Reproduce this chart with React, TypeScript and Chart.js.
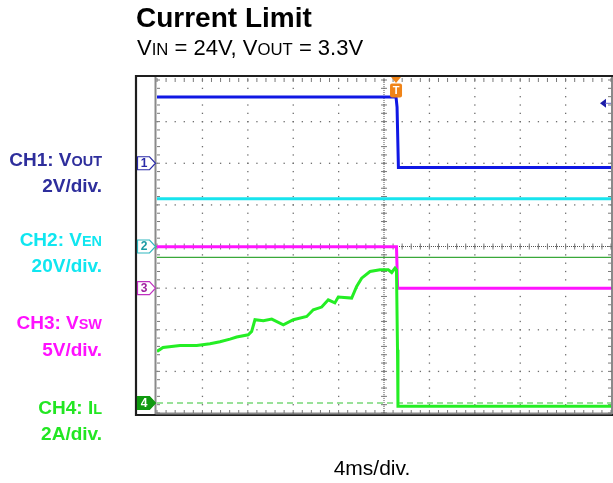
import React, { useEffect, useRef } from "react";
import { Chart, registerables } from "chart.js";

Chart.register(...registerables);

// ---- scope setup ----
const TIME_PER_DIV_MS = 4;
const X_DIVS = 10;
const Y_DIVS = 8;

// channel ground-marker positions (divisions from bottom) and scales per division
const CH1_OFFSET_DIV = 6.0;
const CH1_SCALE = 2; // V/div
const CH2_OFFSET_DIV = 4.0;
const CH2_SCALE = 20; // V/div
const CH3_OFFSET_DIV = 3.0;
const CH3_SCALE = 5; // V/div
const CH4_OFFSET_DIV = 0.24;
const CH4_SCALE = 2; // A/div

// ---- data (time in ms from left edge of screen) ----
const ch1Time = [0, 21.06, 21.15, 21.27, 40];
const ch1Volts = [3.18, 3.18, 2.7, -0.21, -0.21];

const ch2Time = [0, 40];
const ch2Volts = [22.9, 22.9];

const ch3Time = [0, 21.1, 21.2, 40];
const ch3Volts = [4.98, 4.98, 0.0, 0.0];

const ch4Time = [
  0, 0.53, 2.03, 3.5, 4.67, 5.55, 6.43, 7.02, 8.04, 8.34, 8.63, 9.37, 10.11,
  11.13, 12.01, 13.19, 13.77, 14.51, 15.09, 15.67, 15.97, 17.15, 17.59, 18.03,
  18.77, 19.65, 20.38, 20.68, 20.97, 21.1, 21.19, 21.23, 40,
];
const ch4Amps = [
  2.48, 2.67, 2.76, 2.76, 2.85, 2.94, 3.07, 3.17, 3.28, 3.44, 4.0, 3.95, 4.03,
  3.76, 4.0, 4.16, 4.48, 4.61, 4.96, 4.81, 5.09, 5.04, 5.6, 6.0, 6.32, 6.4, 6.4,
  6.27, 6.48, 6.4, 2.56, -0.16, -0.16,
];

const TRIGGER_TIME_MS = 21.06;
const TRIGGER_LEVEL_A = 7.0;
const REF_ARROW_DIV = 7.44;

const CH1_COLOR = "#1018e4";
const CH2_COLOR = "#18e4ee";
const CH3_COLOR = "#ff14ff";
const CH4_COLOR = "#24ee24";

const toDiv = (vals: number[], off: number, scale: number) =>
  vals.map((v) => off + v / scale);

const pts = (t: number[], d: number[]) => t.map((x, i) => ({ x, y: d[i] }));

function drawMarker(
  ctx: CanvasRenderingContext2D,
  yPix: number,
  label: string,
  stroke: string,
  fill: string,
  text: string
) {
  const x0 = 137.5;
  const x1 = 149.5;
  const tip = 155.5;
  const h = 6.5;
  ctx.beginPath();
  ctx.moveTo(x0, yPix - h);
  ctx.lineTo(x1, yPix - h);
  ctx.lineTo(tip, yPix);
  ctx.lineTo(x1, yPix + h);
  ctx.lineTo(x0, yPix + h);
  ctx.closePath();
  ctx.fillStyle = fill;
  ctx.fill();
  ctx.lineWidth = 1.2;
  ctx.strokeStyle = stroke;
  ctx.stroke();
  ctx.fillStyle = text;
  ctx.font = "bold 12px 'Liberation Sans', Arial, sans-serif";
  ctx.textAlign = "center";
  ctx.textBaseline = "middle";
  ctx.fillText(label, 144, yPix + 0.5);
}

const scopePlugin = {
  id: "scope",
  beforeDatasetsDraw(chart: any) {
    const { ctx, chartArea: a, scales } = chart;
    const xs = scales.x;
    const ys = scales.y;
    ctx.save();
    // frame
    ctx.fillStyle = "#ffffff";
    ctx.fillRect(a.left, a.top, a.right - a.left, a.bottom - a.top);
    ctx.strokeStyle = "#1e1e1e";
    ctx.lineWidth = 2.2;
    ctx.beginPath();
    ctx.moveTo(136, 76);
    ctx.lineTo(620, 76);
    ctx.moveTo(136, 415);
    ctx.lineTo(620, 415);
    ctx.moveTo(136, 75);
    ctx.lineTo(136, 416);
    ctx.stroke();
    ctx.strokeStyle = "#8a8a8a";
    ctx.lineWidth = 2;
    ctx.beginPath();
    ctx.moveTo(a.left - 1.5, 77);
    ctx.lineTo(a.left - 1.5, 414);
    ctx.moveTo(a.right + 1, 77);
    ctx.lineTo(a.right + 1, 414);
    ctx.moveTo(a.left - 1.5, a.bottom + 0.5);
    ctx.lineTo(a.right + 1, a.bottom + 0.5);
    ctx.stroke();

    ctx.fillStyle = "#6e6e6e";
    // dotted vertical lines
    for (let i = 1; i < X_DIVS; i++) {
      const px = xs.getPixelForValue(i * TIME_PER_DIV_MS);
      for (let j = 0; j <= Y_DIVS * 5; j++) {
        const py = ys.getPixelForValue(j / 5);
        ctx.fillRect(px - 0.6, py - 0.6, 1.3, 1.3);
      }
    }
    // dotted horizontal lines
    for (let i = 1; i < Y_DIVS; i++) {
      const py = ys.getPixelForValue(i);
      for (let j = 0; j <= X_DIVS * 5; j++) {
        const px = xs.getPixelForValue((j / 5) * TIME_PER_DIV_MS);
        ctx.fillRect(px - 0.6, py - 0.6, 1.3, 1.3);
      }
    }
    // center cross
    const cx = xs.getPixelForValue((X_DIVS / 2) * TIME_PER_DIV_MS);
    const cy = ys.getPixelForValue(Y_DIVS / 2);
    ctx.fillStyle = "#555";
    for (let py = a.top; py <= a.bottom; py += 2) ctx.fillRect(cx - 0.5, py, 1, 1);
    for (let px = a.left; px <= a.right; px += 2) ctx.fillRect(px, cy - 0.5, 1, 1);
    ctx.fillStyle = "#7a7a7a";
    for (let j = 0; j <= Y_DIVS * 5; j++) {
      const py = ys.getPixelForValue(j / 5);
      ctx.fillRect(cx - 3, py - 0.5, 6, 1);
      ctx.fillRect(a.left, py - 0.5, 3, 1);
      ctx.fillRect(a.right - 3, py - 0.5, 3, 1);
    }
    for (let j = 0; j <= X_DIVS * 5; j++) {
      const px = xs.getPixelForValue((j / 5) * TIME_PER_DIV_MS);
      ctx.fillRect(px - 0.5, cy - 3, 1, 6);
      ctx.fillRect(px - 0.5, a.top - 2, 1, 4);
      ctx.fillRect(px - 0.5, a.bottom - 3, 1, 3);
    }
    ctx.restore();
  },
  afterDatasetsDraw(chart: any) {
    const { ctx, chartArea: a, scales } = chart;
    const xs = scales.x;
    const ys = scales.y;
    ctx.save();
    // channel markers
    drawMarker(ctx, ys.getPixelForValue(CH1_OFFSET_DIV), "1", "#2a2aa8", "#ffffff", "#2a2aa8");
    drawMarker(ctx, ys.getPixelForValue(CH2_OFFSET_DIV), "2", "#30b8c0", "#ffffff", "#1a9aa4");
    drawMarker(ctx, ys.getPixelForValue(CH3_OFFSET_DIV), "3", "#c030c0", "#ffffff", "#a020a0");
    drawMarker(ctx, ys.getPixelForValue(CH4_OFFSET_DIV), "4", "#109a10", "#109a10", "#ffffff");

    // trigger marker
    const tx = xs.getPixelForValue(TRIGGER_TIME_MS);
    ctx.fillStyle = "#f08418";
    ctx.beginPath();
    ctx.moveTo(tx - 5, 77);
    ctx.lineTo(tx + 5, 77);
    ctx.lineTo(tx, 83);
    ctx.closePath();
    ctx.fill();
    const bw = 12;
    const bh = 14;
    const bx = tx - bw / 2;
    const by = 83.5;
    ctx.beginPath();
    ctx.moveTo(bx + 2, by);
    ctx.lineTo(bx + bw - 2, by);
    ctx.quadraticCurveTo(bx + bw, by, bx + bw, by + 2);
    ctx.lineTo(bx + bw, by + bh - 2);
    ctx.quadraticCurveTo(bx + bw, by + bh, bx + bw - 2, by + bh);
    ctx.lineTo(bx + 2, by + bh);
    ctx.quadraticCurveTo(bx, by + bh, bx, by + bh - 2);
    ctx.lineTo(bx, by + 2);
    ctx.quadraticCurveTo(bx, by, bx + 2, by);
    ctx.fill();
    ctx.fillStyle = "#ffffff";
    ctx.font = "bold 11px 'Liberation Sans', Arial, sans-serif";
    ctx.textAlign = "center";
    ctx.textBaseline = "middle";
    ctx.fillText("T", tx, by + bh / 2 + 0.5);

    // reference arrow at right edge
    const ay = ys.getPixelForValue(REF_ARROW_DIV);
    ctx.fillStyle = "#1c1ca8";
    ctx.beginPath();
    ctx.moveTo(a.right - 11, ay);
    ctx.lineTo(a.right - 5, ay - 4.5);
    ctx.lineTo(a.right - 5, ay + 4.5);
    ctx.closePath();
    ctx.fill();
    ctx.strokeStyle = "#6a6ac8";
    ctx.lineWidth = 1;
    ctx.beginPath();
    ctx.moveTo(a.right - 6, ay);
    ctx.lineTo(a.right, ay);
    ctx.stroke();
    ctx.restore();
  },
};

export default function App() {
  const ref = useRef<HTMLCanvasElement | null>(null);

  useEffect(() => {
    if (!ref.current) return;
    const chart = new Chart(ref.current, {
      type: "line",
      data: {
        datasets: [
          {
            label: "CH4",
            data: pts(ch4Time, toDiv(ch4Amps, CH4_OFFSET_DIV, CH4_SCALE)),
            borderColor: CH4_COLOR,
            borderWidth: 3,
            pointRadius: 0,
            tension: 0,
          },
          {
            label: "CH1",
            data: pts(ch1Time, toDiv(ch1Volts, CH1_OFFSET_DIV, CH1_SCALE)),
            borderColor: CH1_COLOR,
            borderWidth: 3,
            pointRadius: 0,
            tension: 0,
          },
          {
            label: "CH3",
            data: pts(ch3Time, toDiv(ch3Volts, CH3_OFFSET_DIV, CH3_SCALE)),
            borderColor: CH3_COLOR,
            borderWidth: 3,
            pointRadius: 0,
            tension: 0,
          },
          {
            label: "CH2",
            data: pts(ch2Time, toDiv(ch2Volts, CH2_OFFSET_DIV, CH2_SCALE)),
            borderColor: CH2_COLOR,
            borderWidth: 3,
            pointRadius: 0,
            tension: 0,
          },
          {
            label: "Trigger level",
            data: pts([0, X_DIVS * TIME_PER_DIV_MS], toDiv([TRIGGER_LEVEL_A, TRIGGER_LEVEL_A], CH4_OFFSET_DIV, CH4_SCALE)),
            borderColor: "#3aa83a",
            borderWidth: 1.3,
            pointRadius: 0,
          },
          {
            label: "CH4 ground",
            data: pts([0, X_DIVS * TIME_PER_DIV_MS], [CH4_OFFSET_DIV, CH4_OFFSET_DIV]),
            borderColor: "#78d878",
            borderWidth: 1.5,
            borderDash: [6, 4],
            pointRadius: 0,
          },
        ],
      },
      options: {
        animation: false,
        responsive: false,
        maintainAspectRatio: false,
        parsing: true,
        layout: { padding: { left: 157, top: 80, right: 2, bottom: 70 } },
        plugins: { legend: { display: false }, tooltip: { enabled: false }, title: { display: false } },
        scales: {
          x: { type: "linear", min: 0, max: X_DIVS * TIME_PER_DIV_MS, display: false },
          y: { type: "linear", min: 0, max: Y_DIVS, display: false },
        },
      },
      plugins: [scopePlugin],
    } as any);
    return () => chart.destroy();
  }, []);

  const font = "'Liberation Sans', Arial, Helvetica, sans-serif";
  const sub = { fontSize: "0.76em" };
  const lbl = (center: number, color: string, content: React.ReactNode) => (
    <div
      style={{
        position: "absolute",
        right: 613 - 102,
        top: center - 11,
        lineHeight: "22px",
        fontSize: 19,
        fontWeight: "bold",
        color,
        whiteSpace: "nowrap",
        textAlign: "right",
      }}
    >
      {content}
    </div>
  );

  return (
    <div style={{ position: "absolute", left: 0, top: 0, width: 613, height: 483, fontFamily: font, background: "#fff" }}>
      <canvas ref={ref} width={613} height={483} style={{ position: "absolute", left: 0, top: 0, width: 613, height: 483 }} />
      <div style={{ position: "absolute", left: 136, top: 2, fontSize: 28, fontWeight: "bold", color: "#000", whiteSpace: "nowrap", lineHeight: "32px" }}>
        Current Limit
      </div>
      <div style={{ position: "absolute", left: 137, top: 35, fontSize: 22, color: "#000", whiteSpace: "nowrap", lineHeight: "26px" }}>
        V<span style={sub}>IN</span> = 24V, V<span style={sub}>OUT</span> = 3.3V
      </div>
      {lbl(160, "#2e2e9c", <>CH1: V<span style={sub}>OUT</span></>)}
      {lbl(186, "#2e2e9c", "2V/div.")}
      {lbl(240, "#10e6f0", <>CH2: V<span style={sub}>EN</span></>)}
      {lbl(266, "#10e6f0", "20V/div.")}
      {lbl(323, "#ff10ff", <>CH3: V<span style={sub}>SW</span></>)}
      {lbl(350, "#ff10ff", "5V/div.")}
      {lbl(408, "#22e622", <>CH4: I<span style={sub}>L</span></>)}
      {lbl(434, "#22e622", "2A/div.")}
      <div style={{ position: "absolute", left: 272, width: 200, top: 456, textAlign: "center", fontSize: 21, color: "#000", lineHeight: "24px" }}>
        4ms/div.
      </div>
    </div>
  );
}
